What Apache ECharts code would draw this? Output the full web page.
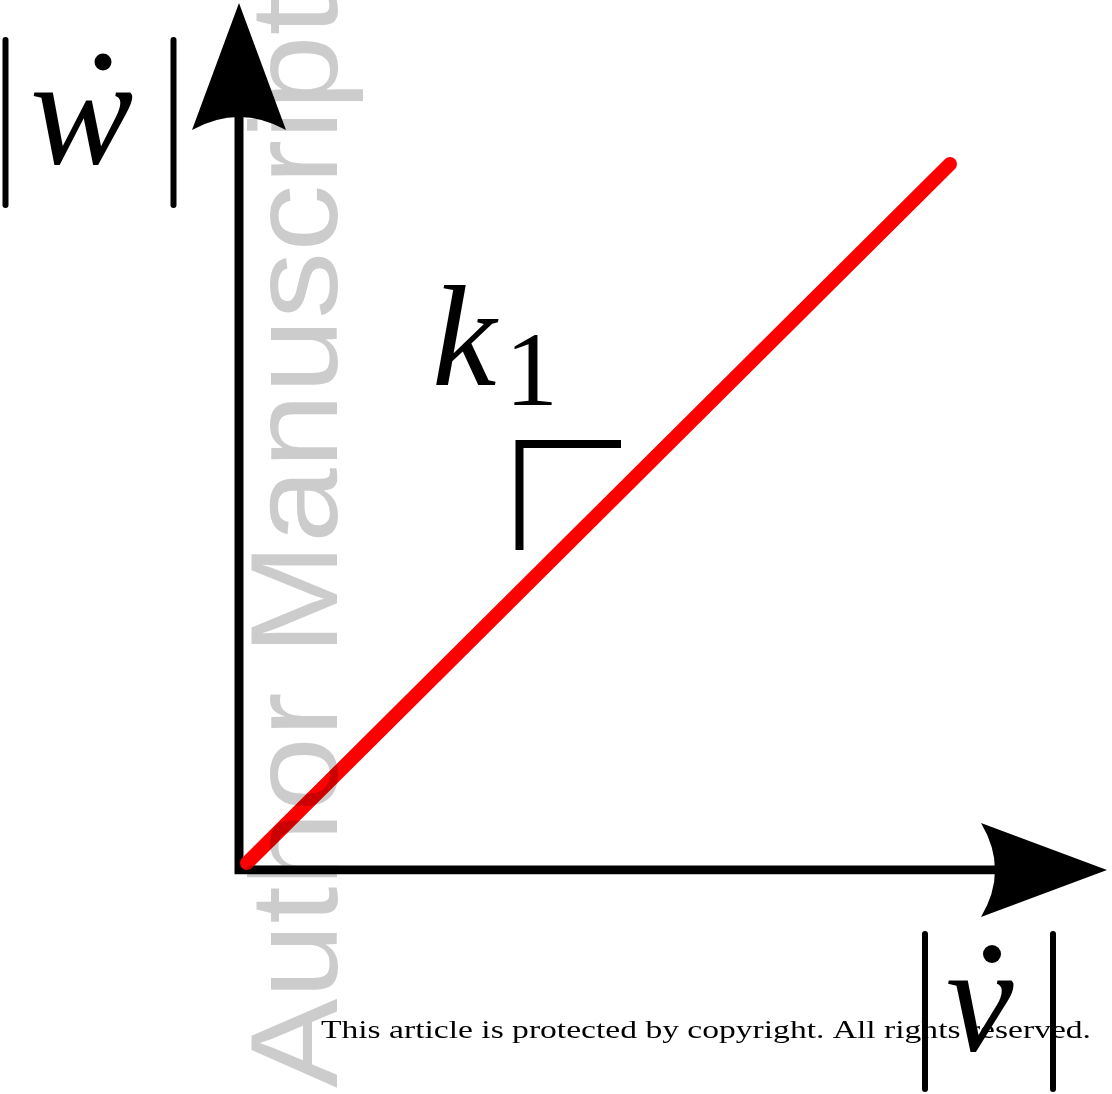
<!DOCTYPE html>
<html>
<head>
<meta charset="utf-8">
<script src="https://cdn.jsdelivr.net/npm/echarts@6/dist/echarts.min.js"></script>
<style>
  html, body { margin: 0; padding: 0; background: #ffffff; }
  #chart { width: 1112px; height: 1094px; }
</style>
</head>
<body>
<div id="chart"></div>
<script>
// Axis shafts meeting at the origin (|v̇| horizontal, |ẇ| vertical)
const axisShaft = [[0, 7.56], [0, 0], [7.56, 0]];
// Arrow tips at the ends of the two axes
const arrowTips = [[0, 8.67, 'up'], [8.68, 0, 'right']];
// Linear relation |ẇ| = k1 |v̇|
const relationLine = [[0.08, 0.07], [7.11, 7.06]];
// Slope indicator drawn beside the line
const slopeMarker = [[3.82, 4.26], [2.805, 4.26], [2.805, 3.20]];
// Text
const yLabelText = 'w';
const xLabelText = 'v';
const slopeSymbol = 'k';
const slopeIndex = '1';
const watermarkText = 'Author Manuscript';
const noticeText = 'This article is protected by copyright. All rights reserved.';

function measure(text, font) {
  const ctx = document.createElement('canvas').getContext('2d');
  ctx.font = font;
  return ctx.measureText(text).width;
}

const wmFont = '125px "Liberation Sans"';
const wmScale = 1090 / measure(watermarkText, wmFont);
const noticeFont = '26px "Liberation Serif"';
const noticeScale = 770 / measure(noticeText, noticeFont);

const chart = echarts.init(document.getElementById('chart'), null, { renderer: 'canvas' });

function bar(x, y1, y2) {
  return {
    type: 'line', z: 50,
    shape: { x1: x, y1: y1, x2: x, y2: y2 },
    style: { stroke: '#000', lineWidth: 6, lineCap: 'round' }
  };
}

chart.setOption({
  animation: false,
  backgroundColor: '#ffffff',
  grid: { left: 239, top: 3, width: 868, height: 867 },
  xAxis: { type: 'value', min: 0, max: 8.68, show: false },
  yAxis: { type: 'value', min: 0, max: 8.67, show: false },
  series: [
    {
      type: 'line', data: axisShaft, symbol: 'none', z: 2,
      lineStyle: { color: '#000', width: 9, join: 'miter', cap: 'butt' }
    },
    {
      type: 'custom', data: arrowTips, z: 3,
      renderItem: function (params, api) {
        const p = api.coord([api.value(0), api.value(1)]);
        const dir = api.value(2);
        let d;
        if (dir === 'up') {
          d = 'M' + p[0] + ',' + p[1] +
            ' L' + (p[0] + 47) + ',' + (p[1] + 127) +
            ' Q' + p[0] + ',' + (p[1] + 101) + ' ' + (p[0] - 47) + ',' + (p[1] + 127) + ' Z';
        } else {
          d = 'M' + p[0] + ',' + p[1] +
            ' L' + (p[0] - 126) + ',' + (p[1] - 47) +
            ' Q' + (p[0] - 98) + ',' + p[1] + ' ' + (p[0] - 126) + ',' + (p[1] + 47) + ' Z';
        }
        return { type: 'path', shape: { pathData: d }, style: { fill: '#000' } };
      }
    },
    {
      type: 'line', data: slopeMarker, symbol: 'none', z: 4,
      lineStyle: { color: '#000', width: 8, join: 'miter', cap: 'butt' }
    },
    {
      type: 'line', data: relationLine, symbol: 'none', z: 5,
      lineStyle: { color: '#ff0000', width: 14, cap: 'round' }
    }
  ],
  graphic: [
    // vertical-axis label |ẇ|
    bar(5.5, 40, 205),
    bar(173.5, 40, 205),
    {
      type: 'text', z: 50, x: 30, y: 122,
      style: { text: yLabelText, font: 'italic 155px "Liberation Serif"', fill: '#000', align: 'left', verticalAlign: 'middle' }
    },
    { type: 'circle', z: 50, shape: { cx: 103, cy: 62, r: 8.5 }, style: { fill: '#000' } },
    // horizontal-axis label |v̇|
    bar(925, 934, 1089),
    bar(1053, 934, 1089),
    {
      type: 'text', z: 50, x: 946, y: 1011,
      style: { text: xLabelText, font: 'italic 152px "Liberation Serif"', fill: '#000', align: 'left', verticalAlign: 'middle' }
    },
    { type: 'circle', z: 50, shape: { cx: 992, cy: 954, r: 9 }, style: { fill: '#000' } },
    // slope label k1
    {
      type: 'text', z: 50, x: 432, y: 347,
      style: { text: slopeSymbol, font: 'italic 145px "Liberation Serif"', fill: '#000', align: 'left', verticalAlign: 'middle' }
    },
    {
      type: 'text', z: 50, x: 505, y: 377,
      style: { text: slopeIndex, font: '106px "Liberation Serif"', fill: '#000', align: 'left', verticalAlign: 'middle' }
    },
    // watermark
    {
      type: 'text', z: 100, x: 303, y: 1088, rotation: Math.PI / 2, scaleX: wmScale,
      style: { text: watermarkText, font: wmFont, fill: 'rgba(0,0,0,0.2)', align: 'left', verticalAlign: 'middle' }
    },
    // copyright notice
    {
      type: 'text', z: 110, x: 321, y: 1031, scaleX: noticeScale,
      style: { text: noticeText, font: noticeFont, fill: '#000', align: 'left', verticalAlign: 'middle' }
    }
  ]
});
</script>
</body>
</html>
